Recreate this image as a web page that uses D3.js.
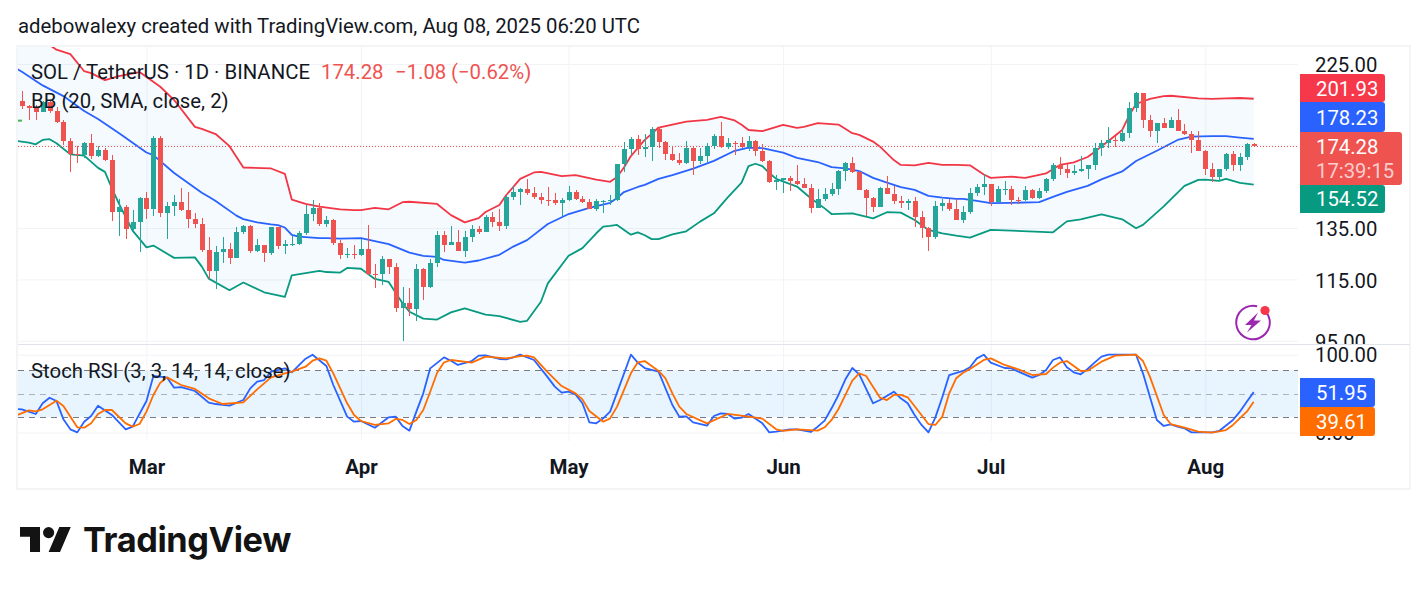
<!DOCTYPE html>
<html>
<head>
<meta charset="utf-8">
<title>SOL / TetherUS</title>
<script src="https://cdn.jsdelivr.net/npm/d3@7/dist/d3.min.js"></script>
<style>
  html, body { margin: 0; padding: 0; background: #fff; }
  svg { display: block; font-family: Roboto, sans-serif; }
  .grid line { stroke: #f2f3f7; }
  .grid path { display: none; }
  .ticks text { font-size: 20.3px; fill: #131722; font-family: Roboto, sans-serif; }
  .months text { font-size: 20.5px; font-weight: 700; fill: #131722; font-family: Roboto, sans-serif; }
</style>
</head>
<body>
<svg id="chart" width="1428" height="591"></svg>
<script>
// Daily candles, SOL / TetherUS, one entry per day from the first session on.
const firstSession = new Date(Date.UTC(2025, 1, 11));
const firstOpen = 200.5;
const closes = [
  197.6,196.2,194.0,199.7,194.4,188.0,177.2,169.8,169.5,175.8,
  169.1,172.1,167.1,141.8,144.0,134.7,137.4,148.1,143.4,178.7,
  141.6,144.6,146.3,142.7,139.0,136.8,126.1,117.9,125.3,126.4,
  123.0,133.2,135.9,125.7,128.0,124.9,135.3,127.5,128.4,128.5,
  132.8,141.0,143.7,136.7,138.4,129.0,124.2,124.6,124.3,126.5,
  117.0,116.9,122.6,119.7,105.3,106.9,105.0,118.9,112.3,120.9,
  132.1,128.0,129.2,125.7,131.3,134.6,133.2,139.7,137.5,135.9,
  148.7,151.0,152.6,150.6,148.7,147.3,147.2,145.8,147.3,151.0,
  147.8,146.3,143.2,146.7,146.9,147.3,164.7,172.6,178.2,172.6,
  174.0,183.8,176.7,169.8,166.8,165.4,173.2,166.3,168.9,174.2,
  179.8,173.9,176.1,175.9,174.0,177.0,171.6,166.3,155.8,156.6,
  157.6,156.3,154.9,153.0,143.7,147.8,150.1,152.5,161.2,165.3,
  160.7,152.0,148.2,144.1,153.0,150.1,146.9,145.9,146.9,139.7,
  135.0,131.3,144.6,145.9,143.2,138.4,141.8,150.6,153.4,154.9,
  146.4,152.5,152.6,147.3,147.2,152.0,148.2,151.5,157.3,164.3,
  162.2,160.2,161.2,162.2,164.3,173.4,176.1,177.6,177.2,181.6,
  196.2,205.6,189.0,182.6,187.2,184.3,189.0,182.6,180.9,177.6,
  171.6,162.2,158.2,162.2,169.8,164.1,168.4,175.36,174.28
];
const highs = [
  206.9,198.1,198.1,200.2,200.2,196.9,189.0,178.5,174.2,176.7,
  180.8,174.5,173.0,169.2,147.6,145.0,142.8,148.6,150.9,179.8,
  179.8,146.5,149.6,153.0,150.9,141.3,139.4,131.1,127.8,131.4,
  128.7,135.6,136.1,136.1,130.4,128.0,135.6,135.6,130.0,131.8,
  133.9,145.0,147.3,145.8,140.1,138.7,130.0,126.7,128.0,130.4,
  136.3,120.7,123.8,122.6,121.2,112.3,111.9,120.7,119.1,122.5,
  133.9,133.6,135.9,134.2,133.8,136.3,135.9,140.5,141.9,143.2,
  149.6,154.0,152.7,157.4,153.4,150.4,153.3,150.6,148.4,153.8,
  152.0,149.1,147.8,147.8,147.3,149.6,164.9,176.5,179.3,180.4,
  181.2,185.0,185.0,177.0,174.5,170.4,177.0,174.2,173.0,176.1,
  180.9,187.8,178.7,177.0,179.3,179.8,177.6,175.5,167.0,159.2,
  157.8,158.7,164.1,157.8,154.9,152.5,153.0,155.3,161.7,165.8,
  168.4,161.2,152.5,148.7,153.4,158.7,153.9,149.1,147.8,148.7,
  142.4,135.5,146.9,147.8,147.8,147.8,144.6,153.0,154.9,159.8,
  154.9,153.9,156.3,153.9,148.7,153.9,152.5,153.0,157.8,165.3,
  168.4,164.7,164.3,168.9,164.5,176.1,177.6,185.0,179.8,183.8,
  199.7,206.2,205.6,191.9,187.4,190.2,190.8,195.6,186.6,182.6,
  182.6,172.1,165.3,162.4,170.4,171.6,170.4,176.1,176.1
];
const lows = [
  195.6,189.0,189.0,194.0,193.0,187.0,174.8,160.8,165.3,167.7,
  167.3,168.3,166.4,138.1,131.8,130.4,134.2,125.4,138.8,140.3,
  139.5,130.4,140.3,142.4,135.2,135.2,125.4,115.3,111.8,121.2,
  120.8,123.0,132.5,125.0,125.3,121.6,124.2,126.4,124.6,127.8,
  128.2,132.1,138.0,135.9,135.6,128.0,122.6,122.9,122.6,123.8,
  116.6,112.0,113.0,117.0,103.8,95.0,102.6,101.2,107.9,112.1,
  119.4,125.3,128.0,125.7,123.4,129.2,132.5,133.4,135.5,133.8,
  134.7,147.3,145.0,149.6,147.8,145.5,144.6,145.0,140.0,146.8,
  147.3,145.9,143.2,142.4,141.5,145.0,146.9,160.8,169.3,169.3,
  168.5,166.4,173.4,166.8,166.3,164.3,164.9,159.2,164.9,165.8,
  172.6,173.2,172.6,169.3,173.4,171.6,168.9,165.8,155.5,152.0,
  150.6,151.5,154.4,153.0,141.5,143.7,146.9,149.1,149.6,156.3,
  160.3,152.0,140.1,141.9,144.1,150.1,145.5,143.7,142.8,135.5,
  130.8,125.7,130.4,142.4,142.4,138.4,137.1,141.0,149.1,149.6,
  144.6,146.4,149.6,145.0,145.5,146.9,147.8,147.8,150.6,156.3,
  159.2,157.8,159.2,160.7,157.3,161.7,168.9,173.2,173.9,176.5,
  178.7,193.8,184.3,179.3,176.1,184.3,184.3,182.6,180.4,170.4,
  171.6,159.2,155.8,156.3,161.2,161.2,161.2,166.8,173.9
];

// Bollinger Band vertices: session number and price.
const upperDays = [-1,4,5,7,9,10,12,14,17,20,22,25,26,28,30,32,36,38,39,41,43,46,48,49,51,53,55,56,60,62,64,66,67,69,70,72,74,75,78,80,83,85,86,87,88,89,90,91,92,94,96,99,101,103,104,105,107,110,112,113,115,118,120,121,123,124,126,127,129,131,133,135,137,139,140,143,145,148,149,150,152,154,155,157,159,160,161,162,163,165,166,170,172,174,176,178];
const upperValues = [245.5,238.7,235.3,232,220,218.7,214,216.6,219.4,209.6,201.1,185,183.8,180.9,174.2,163,162.5,159.8,147.5,145.5,144.3,143.1,142.7,142.7,143.7,143.1,146.3,146.5,145.5,140.5,137.4,139.2,141.9,145,149.6,157.3,160.5,160.8,158.7,159.2,157,155.9,158.2,163,168.9,173.2,177.6,181,184.6,186.3,188,189,190.8,188.7,186.2,183.2,182.6,186.1,184.4,185,187.1,186.3,181.4,180.4,176.7,173.9,166.8,164.3,164.1,165.4,164.3,164.3,164.1,159.5,157.8,158.4,157.8,160,162.2,164.3,165.6,168.4,171.1,177,183.2,191.6,198.7,200.2,201.8,203.6,203.8,202.2,201.9,202.2,202.4,201.93];

const basisDays = [-1,0,3,6,9,11,14,18,19,22,26,27,28,31,32,34,36,37,38,39,40,43,44,46,49,51,53,56,58,60,61,64,66,69,71,73,76,79,82,85,86,87,89,90,92,94,97,100,103,105,107,110,112,115,117,119,121,123,125,127,129,131,133,135,136,138,140,143,147,149,151,154,156,159,161,164,167,169,172,174,176,178];
const basisValues = [222.4,219.6,210.5,203.6,194.4,189.6,181.5,170.8,169.4,160.2,150.7,148.8,146.8,140.3,138.8,137.4,136.5,136.2,135.2,132.1,131.4,130.8,130.8,130.6,130.8,129.6,128.4,125,123.8,123.4,122.2,121.2,122,124.2,127.4,130,136.7,141,143.7,146,148.2,151,153.4,154.4,157.3,159.2,162.4,166.4,171.7,173.4,173.1,170.7,168,165.8,163.2,162.5,161.2,157.8,155.5,153.3,152,149.2,148.4,147.8,147.8,146.9,145.9,146,146.3,148.7,151.1,153.9,157.1,161,166.3,171.7,177.6,179.5,179.7,179.7,178.9,178.23];

const lowerDays = [-1,1,2,3,4,5,7,9,11,12,13,14,16,18,19,22,25,26,27,30,32,35,38,39,43,44,46,47,49,51,53,55,56,58,60,62,64,67,69,72,73,75,76,79,81,83,84,85,86,88,89,90,91,92,94,96,98,100,102,104,105,106,107,108,109,112,114,116,117,120,123,125,127,129,131,133,135,137,140,149,151,153,156,159,161,162,165,168,170,171,173,174,176,178];
const lowerValues = [177.2,176.1,175.2,177.6,178,175.8,169.8,169.1,162.8,160.8,152.8,145.8,133.9,127.1,127.8,123,123.2,119.7,115.3,111.2,113.9,110.5,108.9,116.5,118.1,117.7,117.5,119.2,118.9,115.2,114.1,106.8,104,101.8,101.5,103.8,105.1,103.1,102.6,100.8,101.1,107.3,113.6,123.8,126.8,132.8,135.6,135.9,136.3,132.2,133.2,132,130.4,130.4,132.3,133.6,137.7,141.3,148.5,155.5,163.7,164.9,163.7,160.2,157.3,153.6,148.1,143.5,141,141.3,139.1,141.8,141.6,138.4,134.2,132.8,131.8,131,134.2,133.2,137.8,138.7,140.8,138.7,134.9,136.3,144.4,153.9,156.8,157,156.3,157.3,155.4,154.52];

// Stochastic RSI vertices: session number and oscillator value.
const stochKDays = [-1,0,2,3,4,5,6,7,8,9,10,11,13,15,16,18,19,21,22,23,25,27,28,30,32,33,34,35,36,38,39,41,42,44,45,47,48,49,51,53,54,55,56,57,58,59,61,62,63,65,66,67,69,70,71,72,74,76,77,78,79,80,81,82,83,84,85,88,89,90,92,94,95,96,97,99,100,101,102,103,104,105,107,108,109,111,112,114,115,116,117,118,119,120,121,123,124,126,127,128,129,130,131,132,133,134,136,137,138,139,140,142,143,144,146,147,148,149,150,151,152,153,154,155,156,157,161,162,163,164,165,166,167,168,169,172,173,175,176,177,178];
const stochKValues = [30.3,29.9,23.9,37.6,44.8,40.6,17,4.2,0.3,14,21.3,34.6,22.6,4.2,7.6,40.6,72.7,70.5,57.7,58.5,53.4,38.4,36.7,34.6,41.8,56.8,65.4,67.5,78.2,82.5,77.4,94.9,100,85.5,61.1,20.5,14,14.9,6.3,19.6,20.5,8.5,2.5,26.9,50.4,82.5,96.6,92.3,86.8,91.9,98.8,99.2,94.5,94,96.6,100,93.2,70.9,59,51.3,52.5,49.1,37.6,13.2,11.9,18.3,26.9,100,89.8,82.9,78.2,35.4,20.5,20.9,13.2,8.9,21.3,24.7,23.9,17.9,19.2,23.9,11.9,0.3,1.2,4.2,4.2,0.8,7.6,15.3,31.2,48.3,68.4,82.9,74.8,37.6,41.8,52.5,44,37.6,22.6,9.8,0.3,19.6,45.3,73.9,79.1,83.8,95.3,100,89.8,82.9,82.5,78.2,70.5,73.9,80.4,93.2,96.6,83.8,77.4,74.8,81.6,89.8,97.5,100,100,76.1,46.1,16.2,8.5,10.6,7.6,5.5,0.3,0.3,2.1,16.2,26.9,39.7,51.95];

const stochDDays = [-1,1,2,3,5,6,8,9,10,11,12,13,15,16,17,18,19,20,21,23,25,27,29,32,34,36,38,39,41,42,43,44,45,46,47,48,49,51,53,54,55,56,57,58,59,60,61,62,65,67,70,72,73,74,76,78,80,81,82,84,85,86,88,89,90,92,93,94,95,96,99,102,105,107,109,110,112,115,116,117,118,119,120,121,122,124,125,126,127,128,131,132,133,134,135,136,137,139,140,141,142,144,146,148,149,150,151,153,154,156,158,161,162,163,165,166,168,170,172,174,175,177,178];
const stochDValues = [21.3,28.6,27.3,29.9,41,34.1,6.8,6.3,11.9,23.9,29,29,11.9,7.6,11,26.9,48.3,64.1,70.9,61.1,56,44,36.7,38.9,55.5,70.9,76.1,78.2,84.6,92.3,95.3,92.3,76.1,56.8,37.6,22.6,14.9,9.8,11.9,17.5,16.2,11,16.2,29,52.5,76.9,90.2,93.2,89.8,97.5,95.3,98.3,98.8,96.6,77.4,59.8,50.4,42.7,27.7,14,18.3,33.3,76.1,90.2,91.9,79.1,69.7,50.4,33.3,23.9,11.9,23.9,20.5,17.9,4.2,2.1,4.2,2.5,6.8,16.2,30.3,48.3,66.7,76.1,72.7,44.8,41.8,48.3,48.3,45.3,11,9.8,20.5,50.4,69.7,76.9,81.6,93.2,95.3,91.1,86.8,81.2,73.9,75.2,83.4,89.8,91.9,79.1,79.5,91.1,98.8,100,91.9,71.8,22.6,11,6.3,1.2,0,3.3,9.8,26.9,39.61];

// Axis ticks and the values shown in the scale tags.
const priceTicks = [225, 175, 135, 115, 95];
const stochTicks = [100, 0];
const stochLevels = [80, 50, 20];
const monthTicks = [[2025,2],[2025,3],[2025,4],[2025,5],[2025,6],[2025,7]].map(([y, m]) => new Date(Date.UTC(y, m, 1)));
const lastPrice = 174.28;
const changeText = ["174.28", "\u22121.08", "(\u22120.62%)"];
const priceTags = [
  { text: "201.93", fill: "#f7374a", y: 74, h: 28, w: 85, nudge: 1 },
  { text: "178.23", fill: "#2962ff", y: 102, h: 30, w: 85, nudge: 1 },
  { text: "154.52", fill: "#089981", y: 185, h: 28, w: 85, nudge: 0 }
];
const stochTags = [
  { text: "51.95", fill: "#2962ff", y: 378, h: 29, w: 75, nudge: 0 },
  { text: "39.61", fill: "#ff6d00", y: 407, h: 29, w: 75, nudge: 0 }
];
const earlyMark = { day: 0, price: 189.2 };

const UP = "#26a69a", DOWN = "#ef5350";

const dayAt = i => d3.utcDay.offset(firstSession, i);
const x = d3.scaleUtc().domain([dayAt(0), dayAt(178)]).range([21.9, 1253.7]);
const y = d3.scaleLog().domain([225, 95]).range([64, 340.8]);
const yStoch = d3.scaleLinear().domain([0, 100]).range([432.6, 354.7]);

const candles = closes.map((close, i) => ({
  date: dayAt(i),
  open: i ? closes[i - 1] : firstOpen,
  close, high: highs[i], low: lows[i]
}));

const svg = d3.select("#chart");
const defs = svg.append("defs");
defs.append("clipPath").attr("id", "pricePane").append("rect")
  .attr("x", 18).attr("y", 47).attr("width", 1280).attr("height", 297);
defs.append("clipPath").attr("id", "stochPane").append("rect")
  .attr("x", 18).attr("y", 345).attr("width", 1280).attr("height", 96);
defs.append("clipPath").attr("id", "priceScale").append("rect")
  .attr("x", 1298).attr("y", 47).attr("width", 112).attr("height", 297);

// Outer frame
svg.append("rect").attr("x", 17).attr("y", 46).attr("width", 1393).attr("height", 443)
  .attr("fill", "none").attr("stroke", "#f3f4f6").attr("stroke-width", 2);

// Grid and axes
const priceAxis = svg.append("g").attr("class", "grid ticks")
  .attr("clip-path", "url(#priceScale)");
svg.append("g").attr("class", "grid")
  .attr("transform", "translate(1298,0)")
  .call(d3.axisRight(y).tickValues(priceTicks).tickSizeInner(-1280).tickSizeOuter(0).tickFormat(""));
priceAxis.append("g").attr("transform", "translate(1298,0)")
  .call(d3.axisRight(y).tickValues(priceTicks).tickSizeInner(0).tickSizeOuter(0).tickPadding(17)
    .tickFormat(d3.format(".2f")))
  .selectAll("text").attr("dy", "0.39em");

svg.append("g").attr("class", "grid ticks")
  .attr("transform", "translate(1298,0)")
  .call(d3.axisRight(yStoch).tickValues(stochTicks).tickSizeInner(-1280).tickSizeOuter(0).tickPadding(17)
    .tickFormat(d3.format(".2f")))
  .selectAll("text").attr("x", 17);

svg.append("g").attr("class", "grid months")
  .attr("transform", "translate(0,441)")
  .call(d3.axisBottom(x).tickValues(monthTicks).tickSizeInner(-395).tickSizeOuter(0).tickPadding(18)
    .tickFormat(d3.utcFormat("%b")));

// Pane divider
svg.append("line").attr("x1", 18).attr("x2", 1410).attr("y1", 344.5).attr("y2", 344.5)
  .attr("stroke", "#e0e3eb").attr("stroke-width", 1);

// Price pane
const pricePane = svg.append("g").attr("clip-path", "url(#pricePane)");
const linePrice = d3.line().x(d => x(dayAt(d[0]))).y(d => y(d[1]));
const upperPts = d3.zip(upperDays, upperValues);
const basisPts = d3.zip(basisDays, basisValues);
const lowerPts = d3.zip(lowerDays, lowerValues);

pricePane.append("path")
  .attr("d", linePrice(upperPts.concat(lowerPts.slice().reverse())) + "Z")
  .attr("fill", "#2196f3").attr("fill-opacity", 0.05);

[[upperPts, "#f23645"], [basisPts, "#2962ff"], [lowerPts, "#089981"]].forEach(([pts, color]) => {
  pricePane.append("path").attr("d", linePrice(pts))
    .attr("fill", "none").attr("stroke", color).attr("stroke-width", 1.8)
    .attr("stroke-linejoin", "round");
});

// Last price marker line
pricePane.append("line")
  .attr("x1", 18).attr("x2", 1298)
  .attr("y1", Math.round(y(lastPrice)) + 0.5).attr("y2", Math.round(y(lastPrice)) + 0.5)
  .attr("stroke", DOWN).attr("stroke-width", 1).attr("stroke-dasharray", "1 2");

const colorOf = d => d.close >= d.open ? UP : DOWN;
pricePane.append("g").selectAll("rect").data(candles).join("rect")
  .attr("x", d => Math.round(x(d.date)))
  .attr("width", 1)
  .attr("y", d => Math.round(y(d.high)))
  .attr("height", d => Math.max(1, Math.round(y(d.low)) - Math.round(y(d.high))))
  .attr("fill", colorOf);
pricePane.append("g").selectAll("rect").data(candles).join("rect")
  .attr("x", d => Math.round(x(d.date)) - 2)
  .attr("width", 5)
  .attr("y", d => Math.round(y(Math.max(d.open, d.close))))
  .attr("height", d => Math.max(1, Math.round(y(Math.min(d.open, d.close))) - Math.round(y(Math.max(d.open, d.close)))))
  .attr("fill", colorOf);

// Short green mark near the left edge
pricePane.append("rect")
  .attr("x", 18).attr("width", x(dayAt(earlyMark.day)) - 18)
  .attr("y", y(earlyMark.price)).attr("height", 2)
  .attr("fill", "#4caf50");

// Oscillator pane
const stochPane = svg.append("g").attr("clip-path", "url(#stochPane)");
stochPane.append("rect")
  .attr("x", 18).attr("width", 1280)
  .attr("y", yStoch(80)).attr("height", yStoch(20) - yStoch(80))
  .attr("fill", "#2196f3").attr("fill-opacity", 0.1);
stochPane.append("g").selectAll("line").data(stochLevels).join("line")
  .attr("x1", 18).attr("x2", 1298)
  .attr("y1", d => Math.round(yStoch(d)) + 0.5).attr("y2", d => Math.round(yStoch(d)) + 0.5)
  .attr("stroke", "#787b86").attr("stroke-opacity", d => d === 50 ? 0.55 : 1)
  .attr("stroke-dasharray", "6 5");

const lineStoch = d3.line().x(d => x(dayAt(d[0]))).y(d => yStoch(d[1]));
[[d3.zip(stochKDays, stochKValues), "#2962ff"], [d3.zip(stochDDays, stochDValues), "#ff6d00"]].forEach(([pts, color]) => {
  stochPane.append("path").attr("d", lineStoch(pts))
    .attr("fill", "none").attr("stroke", color).attr("stroke-width", 1.8)
    .attr("stroke-linejoin", "round");
});

// Scale tags
function tag(group, t) {
  group.append("path")
    .attr("d", `M1300 ${t.y}H${1300 + t.w - 3}Q${1300 + t.w} ${t.y} ${1300 + t.w} ${t.y + 3}V${t.y + t.h - 3}Q${1300 + t.w} ${t.y + t.h} ${1300 + t.w - 3} ${t.y + t.h}H1300Z`)
    .attr("fill", t.fill);
  group.append("text").attr("x", 1316).attr("y", t.y + t.h / 2 + 7 + t.nudge)
    .attr("font-size", 20.3).attr("fill", "#fff").text(t.text);
}
const tags = svg.append("g");
tags.append("path")
  .attr("d", "M1300 132H1399Q1402 132 1402 135V182Q1402 185 1399 185H1300Z")
  .attr("fill", DOWN);
tags.append("text").attr("x", 1316).attr("y", 154)
  .attr("font-size", 20.3).attr("fill", "#fff").text(changeText[0]);
tags.append("text").attr("x", 1316).attr("y", 178)
  .attr("font-size", 20.3).attr("fill", "#fff").attr("fill-opacity", 0.72).text("17:39:15");
priceTags.forEach(t => tag(tags, t));
stochTags.forEach(t => tag(tags, t));

// Caption and pane legends
const label = (tx, ty, text, fill = "#131722") => svg.append("text")
  .attr("x", tx).attr("y", ty).attr("font-size", 20.35).attr("fill", fill).text(text);
label(18, 33, "adebowalexy created with TradingView.com, Aug 08, 2025 06:20 UTC");
label(31, 79, "SOL / TetherUS \u00b7 1D \u00b7 BINANCE");
label(321, 79, changeText[0], DOWN);
label(395, 79, changeText[1], DOWN);
label(451, 79, changeText[2], DOWN);
label(31, 108, "BB (20, SMA, close, 2)");
label(31, 378, "Stoch RSI (3, 3, 14, 14, close)");

// Energy badge
const badge = svg.append("g").attr("transform", "translate(1253,322.5)");
badge.append("path").attr("d", d3.arc().innerRadius(15.8).outerRadius(17.8).startAngle(0.9).endAngle(Math.PI * 2 + 0.25)())
  .attr("fill", "#9c27b0");
badge.append("path").attr("d", "M5 -10L-8 2.5H-1.5L-6 10L8 -2H1Z").attr("fill", "#9c27b0");
badge.append("circle").attr("cx", 12).attr("cy", -12).attr("r", 4.6).attr("fill", "#f7374a");

// Brand mark and wordmark
svg.append("path")
  .attr("transform", "translate(20,521.5) scale(1.43,1.39)")
  .attr("d", "M14 22H7V11H0V4h14v18zM28 22h-8l7.5-18h8L28 22z")
  .attr("fill", "#131313");
svg.append("circle").attr("cx", 20 + 20 * 1.43).attr("cy", 521.5 + 8 * 1.39).attr("r", 4 * 1.39).attr("fill", "#131313");
svg.append("text").attr("x", 83).attr("y", 552)
  .attr("font-family", "Inter, sans-serif").attr("font-size", 34.3).attr("font-weight", 700)
  .attr("fill", "#131313").attr("letter-spacing", -0.4).text("TradingView");
</script>
</body>
</html>
